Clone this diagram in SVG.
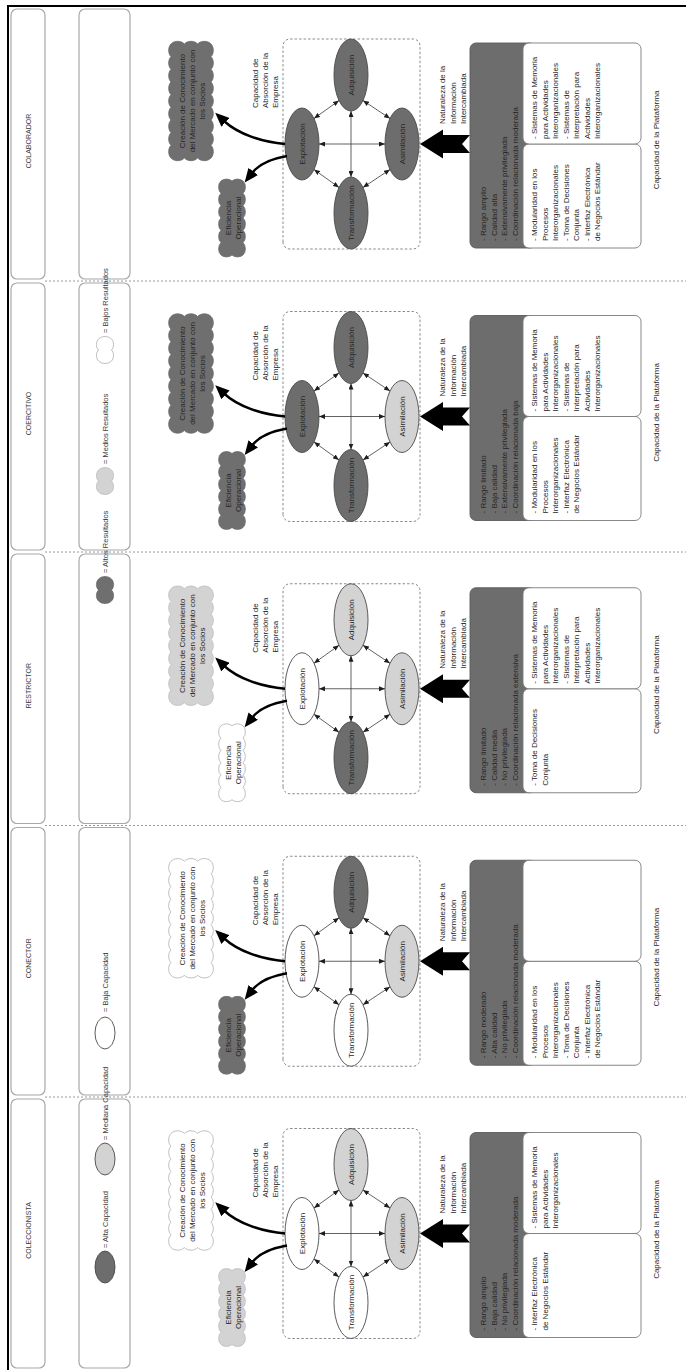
<svg xmlns="http://www.w3.org/2000/svg" width="686" height="1370" viewBox="0 0 686 1370">
<style>
  .f{font-family:"Liberation Sans",Arial,Helvetica,sans-serif;fill:#262626}
  .t8{font-size:8px}
  .mid{text-anchor:middle}
  .hd{font-size:7px;text-anchor:middle;fill:#3a3a3a}
  .lg{font-size:7.5px;fill:#3a3a3a}
  .cell{fill:#fff;stroke:#a8a8a8;stroke-width:1.2}
  .sep{fill:none;stroke:#9a9a9a;stroke-width:1;stroke-dasharray:2 2}
  .frame{fill:none;stroke:#8a8a8a;stroke-width:1;stroke-dasharray:2.5 2}
  .dk{fill:#6d6d6d;stroke:#4a4a4a;stroke-width:0.9}
  .lt{fill:#d3d3d3;stroke:#4a4a4a;stroke-width:0.9}
  .wh{fill:#fff;stroke:#4a4a4a;stroke-width:0.9}
  .cdk{fill:#6f6f6f;stroke:#6a6a6a;stroke-width:0.8}
  .clt{fill:#d3d3d3;stroke:#bdbdbd;stroke-width:0.8}
  .cwh{fill:#fff;stroke:#b0b0b0;stroke-width:0.8}
  .band{fill:#6d6d6d;stroke:#5a5a5a;stroke-width:0.9}
  .pane{fill:#fff;stroke:#7a7a7a;stroke-width:0.9}
  .link{fill:none;stroke:#3a3a3a;stroke-width:0.8;marker-start:url(#tip);marker-end:url(#tip)}
  .flow{fill:none;stroke:#000;stroke-width:2.4;marker-end:url(#head)}
  .border{fill:none;stroke:#000;stroke-width:2}
</style>
<defs>
  <marker id="tip" viewBox="0 0 6 5" refX="6" refY="2.5" markerWidth="6" markerHeight="5" markerUnits="userSpaceOnUse" orient="auto-start-reverse">
    <path d="M0 0 L6 2.5 L0 5 Z" fill="#1e1e1e"/>
  </marker>
  <marker id="head" viewBox="0 0 14 12" refX="2" refY="6" markerWidth="14" markerHeight="12" markerUnits="userSpaceOnUse" orient="auto">
    <path d="M0 0 L14 6 L0 12 Z" fill="#000"/>
  </marker>
  <!-- cloud outlines, centred on 0,0 -->
  <path id="cloudBig" d="M-57 -20 a7.5 5 0 0 1 12.667 0 a7.5 5 0 0 1 12.667 0 a7.5 5 0 0 1 12.667 0 a7.5 5 0 0 1 12.667 0 a7.5 5 0 0 1 12.667 0 a7.5 5 0 0 1 12.667 0 a7.5 5 0 0 1 12.667 0 a7.5 5 0 0 1 12.667 0 a7.5 5 0 0 1 12.667 0 a6 8 0 0 1 0 13.333 a6 8 0 0 1 0 13.333 a6 8 0 0 1 0 13.333 a7.5 5 0 0 1 -12.667 0 a7.5 5 0 0 1 -12.667 0 a7.5 5 0 0 1 -12.667 0 a7.5 5 0 0 1 -12.667 0 a7.5 5 0 0 1 -12.667 0 a7.5 5 0 0 1 -12.667 0 a7.5 5 0 0 1 -12.667 0 a7.5 5 0 0 1 -12.667 0 a7.5 5 0 0 1 -12.667 0 a6 8 0 0 1 0 -13.333 a6 8 0 0 1 0 -13.333 a6 8 0 0 1 0 -13.333 Z"/>
  <path id="cloudSmall" d="M-37 -11 a7 4.5 0 0 1 12.333 0 a7 4.5 0 0 1 12.333 0 a7 4.5 0 0 1 12.333 0 a7 4.5 0 0 1 12.333 0 a7 4.5 0 0 1 12.333 0 a7 4.5 0 0 1 12.333 0 a5 7 0 0 1 0 11 a5 7 0 0 1 0 11 a7 4.5 0 0 1 -12.333 0 a7 4.5 0 0 1 -12.333 0 a7 4.5 0 0 1 -12.333 0 a7 4.5 0 0 1 -12.333 0 a7 4.5 0 0 1 -12.333 0 a7 4.5 0 0 1 -12.333 0 a5 7 0 0 1 0 -11 a5 7 0 0 1 0 -11 Z"/>
  <path id="cloudTiny" d="M-11 -6.5 a6.5 4.5 0 0 1 11 0 a6.5 4.5 0 0 1 11 0 a5 7.5 0 0 1 0 13 a6.5 4.5 0 0 1 -11 0 a6.5 4.5 0 0 1 -11 0 a5 7.5 0 0 1 0 -13 Z"/>
  <!-- connector set of one panel, centred on the panel axis -->
  <g id="linkset">
    <path class="link" d="M25.5 314 L43.5 339"/>
    <path class="link" d="M43.5 363 L25.5 390"/>
    <path class="link" d="M-25.5 390 L-43.5 363"/>
    <path class="link" d="M-43.5 339 L-25.5 314"/>
    <path class="link" d="M0 319 L0 385"/>
    <path class="link" d="M33 351 L-33 351"/>
    <path class="flow" d="M0 285 C2 262 10 238 23 224"/>
    <path class="flow" d="M-12 287 C-15 270 -20 259 -29 252"/>
    <polygon points="0,420 14.5,443 9,443 9,470 0,462 -9,470 -9,443 -14.5,443" fill="#000"/>
  </g>
</defs>

<g transform="translate(0 1370) rotate(-90)">
  <rect x="0" y="0" width="1370" height="686" fill="#fff"/>

  <!-- frame -->
  <path class="border" d="M0 8 H1364 V686"/>

  <!-- lanes: header row, legend row, separators -->
  <g id="lanes">
    <rect class="cell" x="2" y="11" width="269" height="34" rx="6"/>
    <rect class="cell" x="275" y="11" width="267.5" height="34" rx="6"/>
    <rect class="cell" x="546.5" y="11" width="269.5" height="34" rx="6"/>
    <rect class="cell" x="820" y="11" width="267" height="34" rx="6"/>
    <rect class="cell" x="1091" y="11" width="270" height="34" rx="6"/>
    <rect class="cell" x="2" y="79" width="269" height="51" rx="6"/>
    <rect class="cell" x="275" y="79" width="267.5" height="51" rx="6"/>
    <rect class="cell" x="546.5" y="79" width="269.5" height="51" rx="6"/>
    <rect class="cell" x="820" y="79" width="267" height="51" rx="6"/>
    <rect class="cell" x="1091" y="79" width="270" height="51" rx="6"/>
    <path class="sep" d="M273 45 V686 M544.5 45 V686 M818 45 V686 M1089 45 V686"/>
  </g>

  <!-- legend -->
  <g id="legend">
    <ellipse class="dk" cx="103" cy="105" rx="16" ry="10"/>
    <text class="f lg" x="122" y="108">= Alta Capacidad</text>
    <ellipse class="lt" cx="211" cy="105" rx="16" ry="10"/>
    <text class="f lg" x="230" y="108">= Mediana Capacidad</text>
    <ellipse class="wh" cx="337" cy="105" rx="16" ry="10"/>
    <text class="f lg" x="358" y="108">= Baja Capacidad</text>
    <use href="#cloudTiny" class="cdk" x="780" y="105"/>
    <text class="f lg" x="797" y="108">= Altos Resultados</text>
    <use href="#cloudTiny" class="clt" x="889" y="105"/>
    <text class="f lg" x="906" y="108">= Medios Resultados</text>
    <use href="#cloudTiny" class="cwh" x="1020" y="105"/>
    <text class="f lg" x="1037" y="108">= Bajos Resultados</text>
  </g>

  <!-- COLECCIONISTA -->
  <g id="coleccionista" transform="translate(136.5 0)">
    <g id="coleccionista-header"><text class="f hd" x="3" y="30.5">COLECCIONISTA</text></g>
    <g id="coleccionista-creacion">
      <use href="#cloudBig" class="cwh" x="43" y="191"/>
      <text class="f t8 mid"><tspan x="43" y="184.5">Creación de Conocimiento</tspan><tspan x="43" y="194.8">del Mercado en conjunto con</tspan><tspan x="43" y="205.1">los Socios</tspan></text>
    </g>
    <g id="coleccionista-eficiencia">
      <use href="#cloudSmall" class="clt" x="-74" y="232"/>
      <text class="f t8 mid"><tspan x="-74" y="231">Eficiencia</tspan><tspan x="-74" y="240.5">Operacional</tspan></text>
    </g>
    <g id="coleccionista-absorcion">
      <text class="f t8"><tspan x="36" y="258">Capacidad de</tspan><tspan x="36" y="267.8">Absorción de la</tspan><tspan x="36" y="277.6">Empresa</tspan></text>
      <rect class="frame" x="-105" y="283" width="210" height="137" rx="7"/>
    </g>
    <g id="coleccionista-explotacion"><ellipse class="wh" cx="0" cy="302" rx="36" ry="17"/><text class="f t8 mid" x="0" y="305">Explotación</text></g>
    <g id="coleccionista-adquisicion"><ellipse class="lt" cx="69" cy="351" rx="36" ry="17"/><text class="f t8 mid" x="69" y="354">Adquisición</text></g>
    <g id="coleccionista-transformacion"><ellipse class="wh" cx="-69" cy="351" rx="36" ry="17"/><text class="f t8 mid" x="-69" y="354">Transformación</text></g>
    <g id="coleccionista-asimilacion"><ellipse class="lt" cx="0" cy="402" rx="36" ry="17"/><text class="f t8 mid" x="0" y="405">Asimilación</text></g>
    <g id="coleccionista-naturaleza">
      <text class="f t8"><tspan x="20" y="445">Naturaleza de la</tspan><tspan x="20" y="455.5">Información</tspan><tspan x="20" y="466">Intercambiada</tspan></text>
    </g>
    <g id="coleccionista-plataforma">
      <rect class="band" x="-104" y="470" width="205" height="66" rx="6"/>
      <rect class="pane" x="-104" y="523" width="104" height="118" rx="6"/>
      <rect class="pane" x="0" y="523" width="101" height="118" rx="6"/>
      <text class="f t8"><tspan x="-97" y="486">- Rango amplio</tspan><tspan x="-97" y="496.5">- Baja calidad</tspan><tspan x="-97" y="507">- No privilegiada</tspan><tspan x="-97" y="517.5">- Coordinación relacionada moderada</tspan></text>
      <text class="f t8"><tspan x="-97" y="537">- Interfaz Electrónica</tspan><tspan x="-97" y="547.5">de Negocios Estándar</tspan></text>
      <text class="f t8"><tspan x="5" y="537">- Sistemas de Memoria</tspan><tspan x="5" y="547.5">para Actividades</tspan><tspan x="5" y="558">Interorganizacionales</tspan></text>
      <text class="f t8 mid" x="4" y="659">Capacidad de la Plataforma</text>
    </g>
  </g>

  <!-- CONECTOR -->
  <g id="conector" transform="translate(408.75 0)">
    <g id="conector-header"><text class="f hd" x="3" y="30.5">CONECTOR</text></g>
    <g id="conector-creacion">
      <use href="#cloudBig" class="cwh" x="43" y="191"/>
      <text class="f t8 mid"><tspan x="43" y="184.5">Creación de Conocimiento</tspan><tspan x="43" y="194.8">del Mercado en conjunto con</tspan><tspan x="43" y="205.1">los Socios</tspan></text>
    </g>
    <g id="conector-eficiencia">
      <use href="#cloudSmall" class="cdk" x="-74" y="232"/>
      <text class="f t8 mid"><tspan x="-74" y="231">Eficiencia</tspan><tspan x="-74" y="240.5">Operacional</tspan></text>
    </g>
    <g id="conector-absorcion">
      <text class="f t8"><tspan x="36" y="258">Capacidad de</tspan><tspan x="36" y="267.8">Absorción de la</tspan><tspan x="36" y="277.6">Empresa</tspan></text>
      <rect class="frame" x="-105" y="283" width="210" height="137" rx="7"/>
    </g>
    <g id="conector-explotacion"><ellipse class="wh" cx="0" cy="302" rx="36" ry="17"/><text class="f t8 mid" x="0" y="305">Explotación</text></g>
    <g id="conector-adquisicion"><ellipse class="dk" cx="69" cy="351" rx="36" ry="17"/><text class="f t8 mid" x="69" y="354">Adquisición</text></g>
    <g id="conector-transformacion"><ellipse class="wh" cx="-69" cy="351" rx="36" ry="17"/><text class="f t8 mid" x="-69" y="354">Transformación</text></g>
    <g id="conector-asimilacion"><ellipse class="lt" cx="0" cy="402" rx="36" ry="17"/><text class="f t8 mid" x="0" y="405">Asimilación</text></g>
    <g id="conector-naturaleza">
      <text class="f t8"><tspan x="20" y="445">Naturaleza de la</tspan><tspan x="20" y="455.5">Información</tspan><tspan x="20" y="466">Intercambiada</tspan></text>
    </g>
    <g id="conector-plataforma">
      <rect class="band" x="-104" y="470" width="205" height="66" rx="6"/>
      <rect class="pane" x="-104" y="523" width="104" height="118" rx="6"/>
      <rect class="pane" x="0" y="523" width="101" height="118" rx="6"/>
      <text class="f t8"><tspan x="-97" y="486">- Rango moderado</tspan><tspan x="-97" y="496.5">- Alta calidad</tspan><tspan x="-97" y="507">- No privilegiada</tspan><tspan x="-97" y="517.5">- Coordinación relacionada moderada</tspan></text>
      <text class="f t8"><tspan x="-97" y="537">- Modularidad en los</tspan><tspan x="-97" y="547.5">Procesos</tspan><tspan x="-97" y="558">Interorganizacionales</tspan><tspan x="-97" y="568.5">- Toma de Decisiones</tspan><tspan x="-97" y="579">Conjunta</tspan><tspan x="-97" y="589.5">- Interfaz Electrónica</tspan><tspan x="-97" y="600">de Negocios Estándar</tspan></text>
      <text class="f t8 mid" x="4" y="659">Capacidad de la Plataforma</text>
    </g>
  </g>

  <!-- RESTRICTOR -->
  <g id="restrictor" transform="translate(681.25 0)">
    <g id="restrictor-header"><text class="f hd" x="3" y="30.5">RESTRICTOR</text></g>
    <g id="restrictor-creacion">
      <use href="#cloudBig" class="clt" x="43" y="191"/>
      <text class="f t8 mid"><tspan x="43" y="184.5">Creación de Conocimiento</tspan><tspan x="43" y="194.8">del Mercado en conjunto con</tspan><tspan x="43" y="205.1">los Socios</tspan></text>
    </g>
    <g id="restrictor-eficiencia">
      <use href="#cloudSmall" class="cwh" x="-74" y="232"/>
      <text class="f t8 mid"><tspan x="-74" y="231">Eficiencia</tspan><tspan x="-74" y="240.5">Operacional</tspan></text>
    </g>
    <g id="restrictor-absorcion">
      <text class="f t8"><tspan x="36" y="258">Capacidad de</tspan><tspan x="36" y="267.8">Absorción de la</tspan><tspan x="36" y="277.6">Empresa</tspan></text>
      <rect class="frame" x="-105" y="283" width="210" height="137" rx="7"/>
    </g>
    <g id="restrictor-explotacion"><ellipse class="wh" cx="0" cy="302" rx="36" ry="17"/><text class="f t8 mid" x="0" y="305">Explotación</text></g>
    <g id="restrictor-adquisicion"><ellipse class="lt" cx="69" cy="351" rx="36" ry="17"/><text class="f t8 mid" x="69" y="354">Adquisición</text></g>
    <g id="restrictor-transformacion"><ellipse class="dk" cx="-69" cy="351" rx="36" ry="17"/><text class="f t8 mid" x="-69" y="354">Transformación</text></g>
    <g id="restrictor-asimilacion"><ellipse class="lt" cx="0" cy="402" rx="36" ry="17"/><text class="f t8 mid" x="0" y="405">Asimilación</text></g>
    <g id="restrictor-naturaleza">
      <text class="f t8"><tspan x="20" y="445">Naturaleza de la</tspan><tspan x="20" y="455.5">Información</tspan><tspan x="20" y="466">Intercambiada</tspan></text>
    </g>
    <g id="restrictor-plataforma">
      <rect class="band" x="-104" y="470" width="205" height="66" rx="6"/>
      <rect class="pane" x="-104" y="523" width="104" height="118" rx="6"/>
      <rect class="pane" x="0" y="523" width="101" height="118" rx="6"/>
      <text class="f t8"><tspan x="-97" y="486">- Rango limitado</tspan><tspan x="-97" y="496.5">- Calidad media</tspan><tspan x="-97" y="507">- No privilegiada</tspan><tspan x="-97" y="517.5">- Coordinación relacionada extensiva</tspan></text>
      <text class="f t8"><tspan x="-97" y="537">- Toma de Decisiones</tspan><tspan x="-97" y="547.5">Conjunta</tspan></text>
      <text class="f t8"><tspan x="5" y="537">- Sistemas de Memoria</tspan><tspan x="5" y="547.5">para Actividades</tspan><tspan x="5" y="558">Interorganizacionales</tspan><tspan x="5" y="568.5">- Sistemas de</tspan><tspan x="5" y="579">Interpretación para</tspan><tspan x="5" y="589.5">Actividades</tspan><tspan x="5" y="600">Interorganizacionales</tspan></text>
      <text class="f t8 mid" x="4" y="659">Capacidad de la Plataforma</text>
    </g>
  </g>

  <!-- COERCITIVO -->
  <g id="coercitivo" transform="translate(953.5 0)">
    <g id="coercitivo-header"><text class="f hd" x="3" y="30.5">COERCITIVO</text></g>
    <g id="coercitivo-creacion">
      <use href="#cloudBig" class="cdk" x="43" y="191"/>
      <text class="f t8 mid"><tspan x="43" y="184.5">Creación de Conocimiento</tspan><tspan x="43" y="194.8">del Mercado en conjunto con</tspan><tspan x="43" y="205.1">los Socios</tspan></text>
    </g>
    <g id="coercitivo-eficiencia">
      <use href="#cloudSmall" class="cdk" x="-74" y="232"/>
      <text class="f t8 mid"><tspan x="-74" y="231">Eficiencia</tspan><tspan x="-74" y="240.5">Operacional</tspan></text>
    </g>
    <g id="coercitivo-absorcion">
      <text class="f t8"><tspan x="36" y="258">Capacidad de</tspan><tspan x="36" y="267.8">Absorción de la</tspan><tspan x="36" y="277.6">Empresa</tspan></text>
      <rect class="frame" x="-105" y="283" width="210" height="137" rx="7"/>
    </g>
    <g id="coercitivo-explotacion"><ellipse class="dk" cx="0" cy="302" rx="36" ry="17"/><text class="f t8 mid" x="0" y="305">Explotación</text></g>
    <g id="coercitivo-adquisicion"><ellipse class="dk" cx="69" cy="351" rx="36" ry="17"/><text class="f t8 mid" x="69" y="354">Adquisición</text></g>
    <g id="coercitivo-transformacion"><ellipse class="dk" cx="-69" cy="351" rx="36" ry="17"/><text class="f t8 mid" x="-69" y="354">Transformación</text></g>
    <g id="coercitivo-asimilacion"><ellipse class="lt" cx="0" cy="402" rx="36" ry="17"/><text class="f t8 mid" x="0" y="405">Asimilación</text></g>
    <g id="coercitivo-naturaleza">
      <text class="f t8"><tspan x="20" y="445">Naturaleza de la</tspan><tspan x="20" y="455.5">Información</tspan><tspan x="20" y="466">Intercambiada</tspan></text>
    </g>
    <g id="coercitivo-plataforma">
      <rect class="band" x="-104" y="470" width="205" height="66" rx="6"/>
      <rect class="pane" x="-104" y="523" width="104" height="118" rx="6"/>
      <rect class="pane" x="0" y="523" width="101" height="118" rx="6"/>
      <text class="f t8"><tspan x="-97" y="486">- Rango limitado</tspan><tspan x="-97" y="496.5">- Baja calidad</tspan><tspan x="-97" y="507">- Extensivamente privilegiada</tspan><tspan x="-97" y="517.5">- Coordinación relacionada baja</tspan></text>
      <text class="f t8"><tspan x="-97" y="537">- Modularidad en los</tspan><tspan x="-97" y="547.5">Procesos</tspan><tspan x="-97" y="558">Interorganizacionales</tspan><tspan x="-97" y="568.5">- Interfaz Electrónica</tspan><tspan x="-97" y="579">de Negocios Estándar</tspan></text>
      <text class="f t8"><tspan x="5" y="537">- Sistemas de Memoria</tspan><tspan x="5" y="547.5">para Actividades</tspan><tspan x="5" y="558">Interorganizacionales</tspan><tspan x="5" y="568.5">- Sistemas de</tspan><tspan x="5" y="579">Interpretación para</tspan><tspan x="5" y="589.5">Actividades</tspan><tspan x="5" y="600">Interorganizacionales</tspan></text>
      <text class="f t8 mid" x="4" y="659">Capacidad de la Plataforma</text>
    </g>
  </g>

  <!-- COLABORADOR -->
  <g id="colaborador" transform="translate(1226 0)">
    <g id="colaborador-header"><text class="f hd" x="3" y="30.5">COLABORADOR</text></g>
    <g id="colaborador-creacion">
      <use href="#cloudBig" class="cdk" x="43" y="191"/>
      <text class="f t8 mid"><tspan x="43" y="184.5">Creación de Conocimiento</tspan><tspan x="43" y="194.8">del Mercado en conjunto con</tspan><tspan x="43" y="205.1">los Socios</tspan></text>
    </g>
    <g id="colaborador-eficiencia">
      <use href="#cloudSmall" class="cdk" x="-74" y="232"/>
      <text class="f t8 mid"><tspan x="-74" y="231">Eficiencia</tspan><tspan x="-74" y="240.5">Operacional</tspan></text>
    </g>
    <g id="colaborador-absorcion">
      <text class="f t8"><tspan x="36" y="258">Capacidad de</tspan><tspan x="36" y="267.8">Absorción de la</tspan><tspan x="36" y="277.6">Empresa</tspan></text>
      <rect class="frame" x="-105" y="283" width="210" height="137" rx="7"/>
    </g>
    <g id="colaborador-explotacion"><ellipse class="dk" cx="0" cy="302" rx="36" ry="17"/><text class="f t8 mid" x="0" y="305">Explotación</text></g>
    <g id="colaborador-adquisicion"><ellipse class="dk" cx="69" cy="351" rx="36" ry="17"/><text class="f t8 mid" x="69" y="354">Adquisición</text></g>
    <g id="colaborador-transformacion"><ellipse class="dk" cx="-69" cy="351" rx="36" ry="17"/><text class="f t8 mid" x="-69" y="354">Transformación</text></g>
    <g id="colaborador-asimilacion"><ellipse class="dk" cx="0" cy="402" rx="36" ry="17"/><text class="f t8 mid" x="0" y="405">Asimilación</text></g>
    <g id="colaborador-naturaleza">
      <text class="f t8"><tspan x="20" y="445">Naturaleza de la</tspan><tspan x="20" y="455.5">Información</tspan><tspan x="20" y="466">Intercambiada</tspan></text>
    </g>
    <g id="colaborador-plataforma">
      <rect class="band" x="-104" y="470" width="205" height="66" rx="6"/>
      <rect class="pane" x="-104" y="523" width="104" height="118" rx="6"/>
      <rect class="pane" x="0" y="523" width="101" height="118" rx="6"/>
      <text class="f t8"><tspan x="-97" y="486">- Rango amplio</tspan><tspan x="-97" y="496.5">- Calidad alta</tspan><tspan x="-97" y="507">- Extensivamente privilegiada</tspan><tspan x="-97" y="517.5">- Coordinación relacionada moderada</tspan></text>
      <text class="f t8"><tspan x="-97" y="537">- Modularidad en los</tspan><tspan x="-97" y="547.5">Procesos</tspan><tspan x="-97" y="558">Interorganizacionales</tspan><tspan x="-97" y="568.5">- Toma de Decisiones</tspan><tspan x="-97" y="579">Conjunta</tspan><tspan x="-97" y="589.5">- Interfaz Electrónica</tspan><tspan x="-97" y="600">de Negocios Estándar</tspan></text>
      <text class="f t8"><tspan x="5" y="537">- Sistemas de Memoria</tspan><tspan x="5" y="547.5">para Actividades</tspan><tspan x="5" y="558">Interorganizacionales</tspan><tspan x="5" y="568.5">- Sistemas de</tspan><tspan x="5" y="579">Interpretación para</tspan><tspan x="5" y="589.5">Actividades</tspan><tspan x="5" y="600">Interorganizacionales</tspan></text>
      <text class="f t8 mid" x="4" y="659">Capacidad de la Plataforma</text>
    </g>
  </g>

  <!-- connectors of every panel -->
  <g id="connectors">
    <use href="#linkset" transform="translate(136.5 0)"/>
    <use href="#linkset" transform="translate(408.75 0)"/>
    <use href="#linkset" transform="translate(681.25 0)"/>
    <use href="#linkset" transform="translate(953.5 0)"/>
    <use href="#linkset" transform="translate(1226 0)"/>
  </g>
</g>
</svg>
